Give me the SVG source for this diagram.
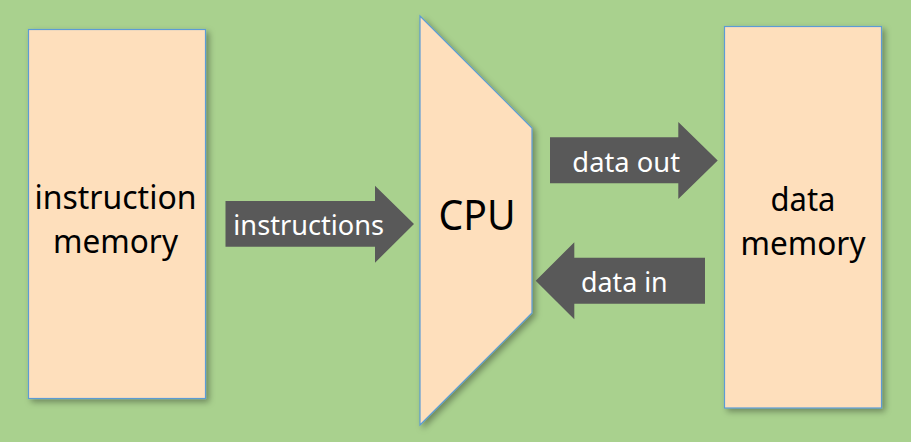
<svg xmlns="http://www.w3.org/2000/svg" width="911" height="442" viewBox="0 0 911 442">
<defs>
<filter id="sh" x="-20%" y="-20%" width="140%" height="140%">
<feDropShadow dx="3" dy="3" stdDeviation="3" flood-color="#000" flood-opacity="0.35"/>
</filter>
</defs>
<style>
.box{fill:#fedfbc;stroke:#5b9bd5;stroke-width:1.2}
.arr{fill:#595959}
.t{font-family:"Noto Sans","Open Sans",sans-serif;fill:#000;text-anchor:middle}
.w{font-family:"Noto Sans","Open Sans",sans-serif;fill:#fff;text-anchor:middle}
</style>
<rect width="911" height="442" fill="#a9d18e"/>
<g id="instruction-memory">
<rect class="box" x="28.5" y="29.5" width="177" height="369" filter="url(#sh)"/>
<text class="t" font-size="32" x="115.5" y="209" textLength="162" lengthAdjust="spacingAndGlyphs">instruction</text>
<text class="t" font-size="32" x="115.5" y="253" textLength="125" lengthAdjust="spacingAndGlyphs">memory</text>
</g>
<g id="cpu">
<polygon class="box" points="420,16 532,128 532,313 420,425" filter="url(#sh)"/>
<text class="t" font-size="42" x="477" y="230" textLength="77" lengthAdjust="spacingAndGlyphs">CPU</text>
</g>
<g id="data-memory">
<rect class="box" x="724.5" y="26.5" width="157" height="381.5" filter="url(#sh)"/>
<text class="t" font-size="32" x="803" y="211" textLength="65" lengthAdjust="spacingAndGlyphs">data</text>
<text class="t" font-size="32" x="803" y="255" textLength="125" lengthAdjust="spacingAndGlyphs">memory</text>
</g>
<g id="connectors">
<g id="instructions-arrow">
<polygon class="arr" points="225.5,201 375,201 375,185.7 414,224 375,262.7 375,246.7 225.5,246.7"/>
<text class="w" font-size="27" x="308.7" y="235" textLength="150.7" lengthAdjust="spacingAndGlyphs">instructions</text>
</g>
<g id="data-out-arrow">
<polygon class="arr" points="550,137.3 678.3,137.3 678.3,122 717.7,160.5 678.3,199 678.3,183.3 550,183.3"/>
<text class="w" font-size="27" x="626.2" y="171.7" textLength="107.7" lengthAdjust="spacingAndGlyphs">data out</text>
</g>
<g id="data-in-arrow">
<polygon class="arr" points="705,257.7 574.3,257.7 574.3,242.3 535.7,280.7 574.3,319.3 574.3,303.7 705,303.7"/>
<text class="w" font-size="27" x="624.3" y="291.7" textLength="86.7" lengthAdjust="spacingAndGlyphs">data in</text>
</g>
</g>
</svg>
